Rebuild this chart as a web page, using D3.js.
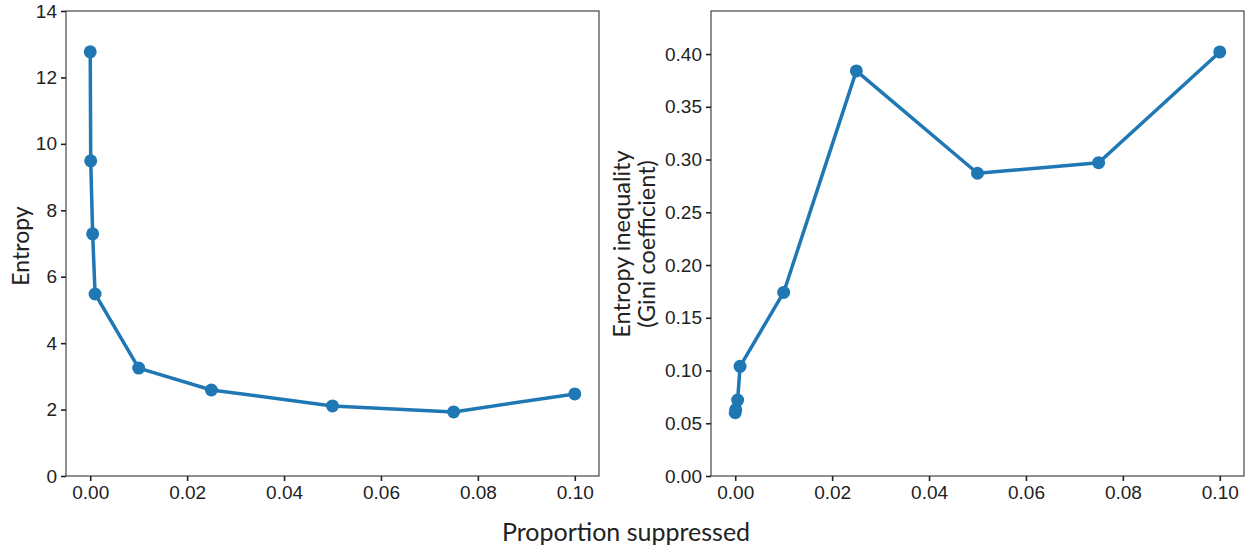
<!DOCTYPE html>
<html>
<head>
<meta charset="utf-8">
<script src="https://cdn.jsdelivr.net/npm/d3@7"></script>
<style>
  html, body { margin: 0; padding: 0; background: #fff; }
  svg { display: block; font-family: Lato, "Open Sans", sans-serif; }
</style>
</head>
<body>
<svg id="chart" width="1248" height="552"></svg>
<script>
// Suppression levels shared by both panels
const proportion = [0, 0.0001, 0.0005, 0.001, 0.01, 0.025, 0.05, 0.075, 0.1];
// Left panel: entropy
const entropy = [12.77, 9.49, 7.29, 5.48, 3.25, 2.59, 2.11, 1.93, 2.47];
// Right panel: Gini coefficient of entropy
const gini = [0.060, 0.063, 0.072, 0.104, 0.174, 0.384, 0.287, 0.297, 0.402];

const xTicks = [0, 0.02, 0.04, 0.06, 0.08, 0.10];
const leftTicks = [0, 2, 4, 6, 8, 10, 12, 14];
const rightTicks = [0, 0.05, 0.10, 0.15, 0.20, 0.25, 0.30, 0.35, 0.40];

const svg = d3.select("#chart");
const color = "#1f77b4";
const ink = "#222";

function panel(opts) {
  const { left, right, top, bottom, values, yDomain, yTicks, yFmt } = opts;
  const x = d3.scaleLinear().domain([-0.005, 0.105]).range([left, right]);
  const y = d3.scaleLinear().domain(yDomain).range([bottom, top]);
  const g = svg.append("g");

  // frame
  g.append("rect")
    .attr("x", left).attr("y", top)
    .attr("width", right - left).attr("height", bottom - top)
    .attr("fill", "none").attr("stroke", "#333").attr("stroke-width", 1.1);

  const xAxis = g.append("g")
    .attr("transform", `translate(0,${bottom})`)
    .call(d3.axisBottom(x).tickValues(xTicks).tickFormat(d3.format(".2f")).tickSize(5).tickPadding(5));
  const yAxis = g.append("g")
    .attr("transform", `translate(${left},0)`)
    .call(d3.axisLeft(y).tickValues(yTicks).tickFormat(yFmt).tickSize(5).tickPadding(4));
  [xAxis, yAxis].forEach(a => {
    a.select(".domain").remove();
    a.selectAll(".tick line").attr("stroke", ink).attr("stroke-width", 1.6);
    a.selectAll(".tick text").attr("fill", ink).style("font-size", "19px");
  });

  const pts = proportion.map((p, i) => [p, values[i]]);
  g.append("path")
    .datum(pts)
    .attr("fill", "none")
    .attr("stroke", color)
    .attr("stroke-width", 3.5)
    .attr("stroke-linejoin", "round")
    .attr("d", d3.line().x(d => x(d[0])).y(d => y(d[1])));
  g.selectAll("circle")
    .data(pts)
    .join("circle")
    .attr("cx", d => x(d[0]))
    .attr("cy", d => y(d[1]))
    .attr("r", 6.5)
    .attr("fill", color);
  return g;
}

panel({
  left: 66, right: 599, top: 11, bottom: 476,
  values: entropy, yDomain: [0, 14], yTicks: leftTicks, yFmt: d3.format("d")
});
panel({
  left: 711, right: 1244, top: 11, bottom: 476,
  values: gini, yDomain: [0, 0.4408], yTicks: rightTicks, yFmt: d3.format(".2f")
});

// axis titles
svg.append("text")
  .attr("transform", "translate(29,246) rotate(-90)")
  .attr("text-anchor", "middle")
  .style("font-size", "23px").attr("fill", ink)
  .text("Entropy");

const rt = svg.append("text")
  .attr("transform", "translate(630,244) rotate(-90)")
  .attr("text-anchor", "middle")
  .style("font-size", "23.5px").attr("fill", ink);
rt.append("tspan").attr("x", 0).attr("dy", 0).text("Entropy inequality");
rt.append("tspan").attr("x", 0).attr("dy", 25).text("(Gini coefficient)");

svg.append("text")
  .attr("x", 626).attr("y", 541)
  .attr("text-anchor", "middle")
  .style("font-size", "25px").attr("fill", ink)
  .text("Proportion suppressed");
</script>
</body>
</html>
